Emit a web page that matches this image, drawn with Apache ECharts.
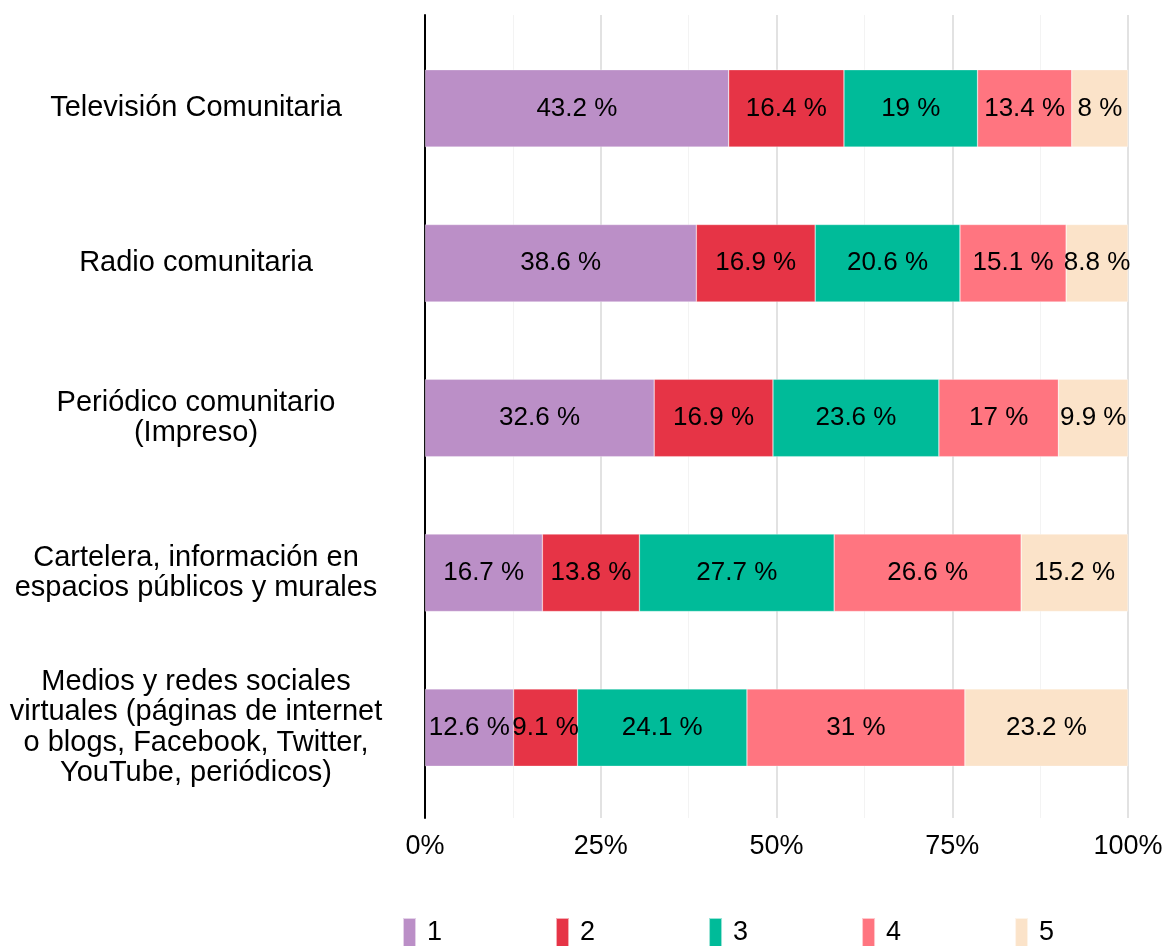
<!DOCTYPE html>
<html>
<head>
<meta charset="utf-8">
<script src="https://cdn.jsdelivr.net/npm/echarts@6/dist/echarts.min.js"></script>
<style>
  html, body { margin: 0; padding: 0; background: #fff; }
  #chart { width: 1168px; height: 946px; }
</style>
</head>
<body>
<div id="chart"></div>
<script>
// categories, top to bottom
var categories = [
  'Televisión Comunitaria',
  'Radio comunitaria',
  'Periódico comunitario\n(Impreso)',
  'Cartelera, información en\nespacios públicos y murales',
  'Medios y redes sociales\nvirtuales (páginas de internet\no blogs, Facebook, Twitter,\nYouTube, periódicos)'
];
var levels = ['1', '2', '3', '4', '5'];
var s1 = [43.2, 38.6, 32.6, 16.7, 12.6];
var s2 = [16.4, 16.9, 16.9, 13.8, 9.1];
var s3 = [19, 20.6, 23.6, 27.7, 24.1];
var s4 = [13.4, 15.1, 17, 26.6, 31];
var s5 = [8, 8.8, 9.9, 15.2, 23.2];
var xTicks = [0, 25, 50, 75, 100];

var colors = ['#BB8FC7', '#E63446', '#00BB99', '#FF7580', '#FBE3C9'];
var font = "'Liberation Sans', Arial, sans-serif";

var myChart = echarts.init(document.getElementById('chart'));

function makeSeries(name, data) {
  return {
    name: name,
    type: 'bar',
    stack: 'total',
    xAxisIndex: 1,
    yAxisIndex: 1,
    barCategoryGap: '50%',
    data: data,
    itemStyle: { borderColor: 'rgba(255,255,255,0.6)', borderWidth: 0.5 },
    label: {
      show: true,
      position: 'inside',
      formatter: '{c} %',
      color: '#000',
      fontSize: 26,
      fontFamily: font
    }
  };
}

var option = {
  animation: false,
  color: colors,
  textStyle: { fontFamily: font },
  legend: {
    data: levels,
    left: 402,
    top: 917,
    padding: 0,
    itemWidth: 13,
    itemHeight: 30,
    itemGap: 113,
    icon: 'rect',
    textStyle: { fontSize: 27, color: '#000', padding: [0, 0, 0, 6], fontFamily: font }
  },
  grid: [
    // background grid: gridlines + y axis line (expanded range)
    { left: 425, right: 40, top: 15, height: 803 },
    // bar grid
    { left: 425, right: 40, top: 31, height: 774 }
  ],
  xAxis: [
    {
      gridIndex: 0,
      type: 'value',
      min: xTicks[0],
      max: xTicks[xTicks.length - 1],
      interval: 25,
      axisLine: { show: false },
      axisTick: { show: false },
      axisLabel: {
        margin: 15,
        fontSize: 27,
        color: '#000',
        fontFamily: font,
        formatter: '{value}%'
      },
      splitLine: { show: true, lineStyle: { color: '#d9d9d9', width: 1.5 } },
      minorTick: { show: false, splitNumber: 2 },
      minorSplitLine: { show: true, lineStyle: { color: '#f3f3f3', width: 1 } }
    },
    {
      gridIndex: 1,
      type: 'value',
      min: 0,
      max: 100,
      show: false
    }
  ],
  yAxis: [
    {
      gridIndex: 0,
      type: 'category',
      data: [''],
      axisLine: { show: true, lineStyle: { color: '#000', width: 2 } },
      axisTick: { show: false },
      axisLabel: { show: false },
      splitLine: { show: false }
    },
    {
      gridIndex: 1,
      type: 'category',
      inverse: true,
      data: categories,
      axisLine: { show: false },
      axisTick: { show: false },
      axisLabel: {
        align: 'center',
        margin: 229,
        fontSize: 29,
        lineHeight: 30.5,
        color: '#000',
        fontFamily: font
      }
    }
  ],
  series: [
    makeSeries(levels[0], s1),
    makeSeries(levels[1], s2),
    makeSeries(levels[2], s3),
    makeSeries(levels[3], s4),
    makeSeries(levels[4], s5)
  ]
};

myChart.setOption(option);
window.onresize = myChart.resize;
</script>
</body>
</html>
